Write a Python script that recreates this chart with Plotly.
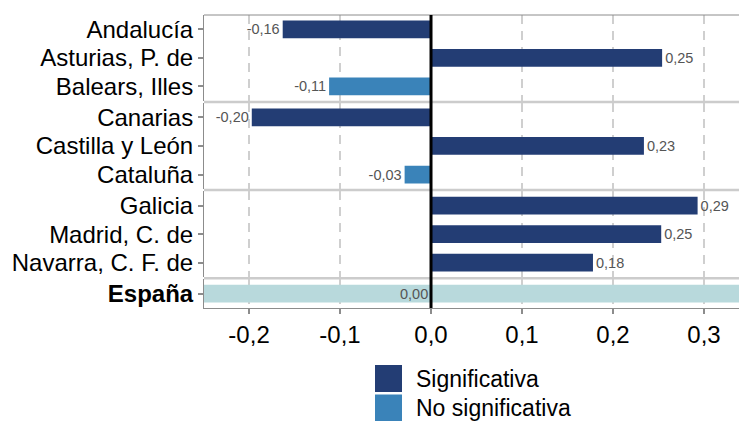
import plotly.graph_objects as go
from plotly.subplots import make_subplots

# ---------------- data ----------------
regions = ["Andalucía", "Asturias, P. de", "Balears, Illes",
           "Canarias", "Castilla y León", "Cataluña",
           "Galicia", "Madrid, C. de", "Navarra, C. F. de",
           "España"]
values = [-0.163, 0.254, -0.112,
          -0.197, 0.234, -0.029,
          0.293, 0.253, 0.178,
          0.0]
significance = ["Significativa", "Significativa", "No significativa",
                "Significativa", "Significativa", "No significativa",
                "Significativa", "Significativa", "Significativa",
                "Total"]
panel = [1, 1, 1, 2, 2, 2, 3, 3, 3, 4]
x_tickvals = [-0.2, -0.1, 0.0, 0.1, 0.2, 0.3]
x_ticktext = ["-0,2", "-0,1", "0,0", "0,1", "0,2", "0,3"]
legend_items = ["Significativa", "No significativa"]

# ---------------- style ----------------
COLORS = {"Significativa": "#233d74", "No significativa": "#3a83b9", "Total": "#b8d9dc"}
FONT = "Liberation Sans, Arial, sans-serif"
W, H = 739, 421
M_L, M_R, M_T, M_B = 204, 0, 15, 113
PW, PH = W - M_L - M_R, H - M_T - M_B
X_MIN, X_MAX = -0.2495, 0.3385
BAR_W = 0.62
GAP = 2.5
TICK_FS = 24
LEG_FS = 23
VAL_FS = 14.5


def fmt(v):
    return f"{v:.2f}".replace(".", ",")


n_rows = max(panel)
row_counts = [panel.count(p) for p in range(1, n_rows + 1)]
fig = make_subplots(rows=n_rows, cols=1, shared_xaxes=True,
                    row_heights=row_counts, vertical_spacing=GAP / PH)

for p in range(1, n_rows + 1):
    idx = [i for i in range(len(regions)) if panel[i] == p]
    cats = [regions[i] for i in idx]
    for sig in ["Significativa", "No significativa"]:
        sel = [i for i in idx if significance[i] == sig]
        if not sel:
            continue
        fig.add_trace(go.Bar(
            y=[regions[i] for i in sel], x=[values[i] for i in sel],
            orientation="h", width=BAR_W, marker_color=COLORS[sig],
            marker_line_width=0,
            text=[fmt(values[i]) for i in sel], textposition="outside",
            textfont=dict(size=VAL_FS, color="#555555", family=FONT),
            cliponaxis=False, showlegend=False, hoverinfo="skip"),
            row=p, col=1)
    tot = [i for i in idx if significance[i] == "Total"]
    for i in tot:
        fig.add_trace(go.Bar(
            y=[regions[i]], x=[X_MAX - X_MIN], base=[X_MIN],
            orientation="h", width=BAR_W, marker_color=COLORS["Total"],
            marker_line_width=0, showlegend=False, hoverinfo="skip"),
            row=p, col=1)
        fig.add_annotation(x=values[i], y=regions[i], xref=f"x{p}", yref=f"y{p}",
                           text=fmt(values[i]), showarrow=False, xanchor="right",
                           xshift=-1, font=dict(size=VAL_FS, color="#555555", family=FONT))
    ticktext = [f"<b>{c}</b>" if significance[regions.index(c)] == "Total" else c for c in cats]
    fig.update_yaxes(row=p, col=1, type="category", categoryorder="array",
                     categoryarray=cats, autorange="reversed",
                     tickvals=cats, ticktext=ticktext, automargin=False,
                     showline=True, linecolor="#8c8c8c", linewidth=1,
                     ticks="outside", ticklen=5, tickcolor="#8c8c8c", tickwidth=2,
                     showgrid=False, zeroline=False,
                     tickfont=dict(size=TICK_FS, color="#000000", family=FONT))
    fig.update_xaxes(row=p, col=1, range=[X_MIN, X_MAX], tickvals=x_tickvals,
                     ticktext=x_ticktext, showgrid=True, gridcolor="#cfcfcf",
                     gridwidth=2, griddash="9px,7px", zeroline=False,
                     automargin=False, showticklabels=(p == n_rows))

fig.update_xaxes(row=n_rows, col=1, showline=True, linecolor="#8c8c8c", linewidth=1,
                 ticks="outside", ticklen=5, tickcolor="#8c8c8c", tickwidth=2,
                 tickfont=dict(size=TICK_FS, color="#000000", family=FONT))

# top border
fig.add_shape(type="line", xref="paper", yref="y domain", x0=0, x1=1, y0=1, y1=1,
              line=dict(color="#8c8c8c", width=1))
# panel separators
for p in range(1, n_rows):
    top_next = fig.layout[f"yaxis{p + 1}"].domain[1]
    bot_this = fig.layout[f"yaxis{p}" if p > 1 else "yaxis"].domain[0]
    mid = (top_next + bot_this) / 2
    fig.add_shape(type="line", xref="paper", yref="paper", x0=0, x1=1, y0=mid, y1=mid,
                  line=dict(color="#cccccc", width=2.5), layer="below")
# zero reference line across all panels
fig.add_shape(type="line", xref=f"x{n_rows}", yref="paper", x0=0, x1=0, y0=0, y1=1,
              line=dict(color="#000000", width=3))


# manual legend (large swatches)
def px_x(px):
    return (px - M_L) / PW


def px_y(py):
    return (H - M_B - py) / PH


SW, LX, LY0, STEP = 27, 375, 365, 29.5
for k, name in enumerate(legend_items):
    top = LY0 + k * STEP
    fig.add_shape(type="rect", xref="paper", yref="paper",
                  x0=px_x(LX), x1=px_x(LX + SW), y0=px_y(top + SW), y1=px_y(top),
                  fillcolor=COLORS[name], line_width=0)
    fig.add_annotation(xref="paper", yref="paper", x=px_x(LX + SW + 12),
                       y=px_y(top + SW / 2), text=name, showarrow=False,
                       xanchor="left", yanchor="middle",
                       font=dict(size=LEG_FS, color="#000000", family=FONT))

fig.update_layout(width=W, height=H, margin=dict(l=M_L, r=M_R, t=M_T, b=M_B, autoexpand=False),
                  barmode="overlay", plot_bgcolor="white", paper_bgcolor="white",
                  showlegend=False, font=dict(family=FONT))

fig.write_html("out.html", config={"displayModeBar": False},
               post_script="document.body.style.margin='0';document.body.style.overflow='hidden';")
